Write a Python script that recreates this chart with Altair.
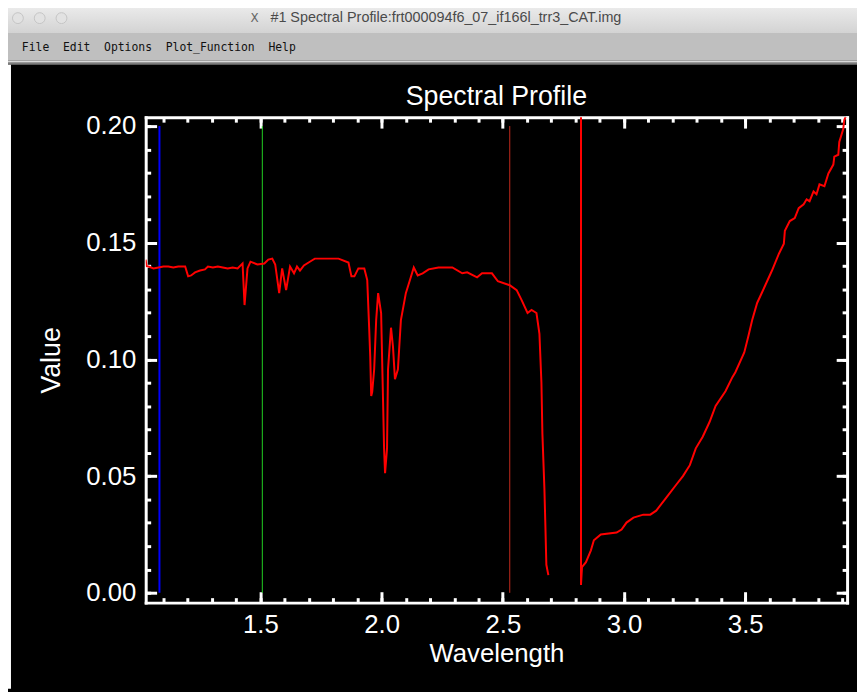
import altair as alt
import pandas as pd

# ---------------- data ----------------
# first part of the spectrum (before the gap)
WL_SHORT = [1.0265, 1.0310, 1.0388, 1.0592, 1.0796, 1.1000, 1.1204, 1.1408, 1.1612, 1.1898,
            1.2020, 1.2143, 1.2306, 1.2510, 1.2714, 1.2837, 1.3041, 1.3245, 1.3449, 1.3653,
            1.3857, 1.4061, 1.4265, 1.4347, 1.4469, 1.4592, 1.4878, 1.5163, 1.5327, 1.5490,
            1.5612, 1.5776, 1.5898, 1.6061, 1.6224, 1.6388, 1.6510, 1.6633, 1.6796, 1.7122,
            1.7245, 1.7735, 1.8224, 1.8633, 1.8755, 1.8878, 1.9041, 1.9286, 1.9408, 1.9490,
            1.9531, 1.9571, 1.9612, 1.9694, 1.9776, 1.9857, 1.9980, 2.0061, 2.0102, 2.0143,
            2.0224, 2.0265, 2.0388, 2.0469, 2.0551, 2.0673, 2.0796, 2.1000, 2.1204, 2.1327,
            2.1490, 2.1694, 2.1939, 2.2347, 2.2918, 2.3327, 2.3531, 2.3939, 2.4143, 2.4551,
            2.4796, 2.5286, 2.5571, 2.5776, 2.6020, 2.6184, 2.6388, 2.6510, 2.6592, 2.6633,
            2.6714, 2.6755, 2.6796, 2.6878]
VAL_SHORT = [0.1428, 0.1400, 0.1398, 0.1390, 0.1394, 0.1398, 0.1398, 0.1394, 0.1398, 0.1398,
             0.1356, 0.1360, 0.1373, 0.1381, 0.1386, 0.1398, 0.1394, 0.1398, 0.1394, 0.1390,
             0.1394, 0.1390, 0.1411, 0.1233, 0.1390, 0.1419, 0.1407, 0.1411, 0.1428, 0.1432,
             0.1407, 0.1284, 0.1390, 0.1297, 0.1398, 0.1369, 0.1398, 0.1381, 0.1403, 0.1424,
             0.1432, 0.1432, 0.1432, 0.1415, 0.1356, 0.1356, 0.1390, 0.1390, 0.1340, 0.1127,
             0.1013, 0.0843, 0.0860, 0.0958, 0.1169, 0.1284, 0.1199, 0.0818, 0.0619, 0.0513,
             0.0619, 0.0958, 0.1136, 0.1055, 0.0915, 0.0958, 0.1169, 0.1284, 0.1352, 0.1394,
             0.1360, 0.1369, 0.1386, 0.1394, 0.1394, 0.1369, 0.1373, 0.1352, 0.1369, 0.1369,
             0.1335, 0.1318, 0.1297, 0.1254, 0.1199, 0.1212, 0.1199, 0.1110, 0.0900, 0.0680,
             0.0450, 0.0290, 0.0120, 0.0076]

# second part of the spectrum (after the gap; first value is off scale)
WL_LONG = [2.8224, 2.8224, 2.8265, 2.8429, 2.8633, 2.8755, 2.9041, 2.9694, 2.9898, 3.0102,
           3.0388, 3.0796, 3.1082, 3.1327, 3.1735, 3.2143, 3.2429, 3.2714, 3.2959, 3.3245,
           3.3531, 3.3776, 3.4184, 3.4469, 3.4592, 3.4959, 3.5122, 3.5286, 3.5490, 3.5694,
           3.6102, 3.6388, 3.6592, 3.6633, 3.6837, 3.7041, 3.7204, 3.7408, 3.7531, 3.7653,
           3.7816, 3.7939, 3.8061, 3.8265, 3.8429, 3.8633, 3.8673, 3.8837, 3.8878, 3.9041,
           3.9082, 3.9163]
VAL_LONG = [0.2500, 0.0034, 0.0110, 0.0131, 0.0182, 0.0225, 0.0250, 0.0258, 0.0271, 0.0301,
            0.0322, 0.0335, 0.0335, 0.0352, 0.0407, 0.0462, 0.0500, 0.0547, 0.0619, 0.0669,
            0.0733, 0.0801, 0.0864, 0.0924, 0.0945, 0.1030, 0.1097, 0.1169, 0.1242, 0.1288,
            0.1381, 0.1453, 0.1496, 0.1551, 0.1593, 0.1606, 0.1648, 0.1665, 0.1686, 0.1678,
            0.1720, 0.1708, 0.1750, 0.1742, 0.1797, 0.1835, 0.1869, 0.1877, 0.1932, 0.1987,
            0.2025, 0.2047]

# band marker lines (blue / green / red bands)
MARKER_WL = [1.0837, 1.5080, 2.5286]
MARKER_COLOR = ["#0000ff", "#22d022", "#c42a1c"]
MARKER_WIDTH = [2.0, 1.0, 1.0]
MARKER_LOW = [0.0, 0.0, 0.0]
MARKER_HIGH = [0.20, 0.20, 0.20]

X_DOMAIN = [1.027, 3.92]
Y_DOMAIN = [-0.0042, 0.2038]
X_MAJOR = [1.5, 2.0, 2.5, 3.0, 3.5]
X_MINOR = [1.1, 1.2, 1.3, 1.4, 1.5, 1.6, 1.7, 1.8, 1.9, 2.0, 2.1, 2.2, 2.3, 2.4, 2.5,
           2.6, 2.7, 2.8, 2.9, 3.0, 3.1, 3.2, 3.3, 3.4, 3.5, 3.6, 3.7, 3.8, 3.9]
Y_MAJOR = [0.0, 0.05, 0.10, 0.15, 0.20]
Y_MINOR = [0.0, 0.01, 0.02, 0.03, 0.04, 0.05, 0.06, 0.07, 0.08, 0.09, 0.10,
           0.11, 0.12, 0.13, 0.14, 0.15, 0.16, 0.17, 0.18, 0.19, 0.20]

PLOT_TITLE = "Spectral Profile"
X_TITLE = "Wavelength"
Y_TITLE = "Value"
WINDOW_TITLE = "#1 Spectral Profile:frt000094f6_07_if166l_trr3_CAT.img"
MENU_TEXT = "\u00a0\u00a0".join(["File", "Edit", "Options", "Plot_Function", "Help"])

# ---------------- tables ----------------
spec = pd.concat([
    pd.DataFrame({"wl": WL_SHORT, "val": VAL_SHORT, "seg": "a"}),
    pd.DataFrame({"wl": WL_LONG, "val": VAL_LONG, "seg": "b"}),
], ignore_index=True)
spec["i"] = range(len(spec))
markers = pd.DataFrame({"wl": MARKER_WL, "lo": MARKER_LOW, "hi": MARKER_HIGH,
                        "c": MARKER_COLOR, "w": MARKER_WIDTH})
one = pd.DataFrame({"k": [0]})

# ---------------- geometry / style ----------------
W, H = 708, 490
PAD_L, PAD_T = 139, 107
FONT = "Liberation Sans"
WHITE = "#ffffff"
XS = alt.Scale(domain=X_DOMAIN, nice=False, zero=False)
YS = alt.Scale(domain=Y_DOMAIN, nice=False, zero=False)


def px(x):  # page x -> plot x
    return x - (PAD_L + 8)


def py(y):  # page y -> plot y
    return y - (PAD_T + 8)


# main curve with bottom / left labelled axes
line = alt.Chart(spec).mark_line(color="#ff0000", strokeWidth=2, clip=True).encode(
    x=alt.X("wl:Q", scale=XS, axis=alt.Axis(
        orient="bottom", values=X_MAJOR, format=".1f", grid=False,
        domain=True, domainColor=WHITE, domainWidth=3, domainCap="square",
        ticks=False, tickSize=0,
        labelColor=WHITE, labelFont=FONT, labelFontSize=26, labelPadding=9,
        title=X_TITLE, titleColor=WHITE, titleFont=FONT, titleFontSize=26,
        titleFontWeight="normal", titlePadding=3)),
    y=alt.Y("val:Q", scale=YS, axis=alt.Axis(
        orient="left", values=Y_MAJOR, format=".2f", grid=False,
        domain=True, domainColor=WHITE, domainWidth=3, domainCap="square",
        ticks=False, tickSize=0,
        labelColor=WHITE, labelFont=FONT, labelFontSize=26, labelPadding=10,
        title=Y_TITLE, titleColor=WHITE, titleFont=FONT, titleFontSize=27,
        titleFontWeight="normal", titlePadding=20)),
    detail="seg:N",
    order=alt.Order("i:Q"),
)

# band markers with top / right frame
rules = alt.Chart(markers).mark_rule().encode(
    x=alt.X("wl:Q", scale=XS, axis=alt.Axis(
        orient="top", grid=False, domain=True, domainColor=WHITE, domainWidth=3,
        domainCap="square", ticks=False, labels=False, title="")),
    y=alt.Y("lo:Q", scale=YS, axis=alt.Axis(
        orient="right", grid=False, domain=True, domainColor=WHITE, domainWidth=3,
        domainCap="square", ticks=False, labels=False, title="")),
    y2="hi:Q",
    color=alt.Color("c:N", scale=None),
    strokeWidth=alt.StrokeWidth("w:Q", scale=None),
)


def tick_layer(x_orient, y_orient, xv, yv, size):
    ax = dict(grid=False, domain=False, labels=False, title="", ticks=True,
              tickSize=size, tickWidth=3, tickColor=WHITE)
    return alt.Chart(spec).mark_point(opacity=0).encode(
        x=alt.X("wl:Q", scale=XS, axis=alt.Axis(orient=x_orient, offset=-H, values=xv, **ax)),
        y=alt.Y("val:Q", scale=YS, axis=alt.Axis(orient=y_orient, offset=-W, values=yv, **ax)),
    )


ticks = [
    tick_layer("top", "right", X_MINOR, Y_MINOR, 5),
    tick_layer("bottom", "left", X_MINOR, Y_MINOR, 5),
    tick_layer("top", "right", X_MAJOR, Y_MAJOR, 11),
    tick_layer("bottom", "left", X_MAJOR, Y_MAJOR, 11),
]

# ---------------- window chrome ----------------
grad = alt.LinearGradient(gradient="linear", x1=0, x2=0, y1=0, y2=1,
                          stops=[alt.GradientStop(offset=0, color="#eeeeee"),
                                 alt.GradientStop(offset=1, color="#d3d3d3")])
title_bar = alt.Chart(one).mark_rect(fill=grad).encode(
    x=alt.value(px(0)), x2=alt.value(px(865)), y=alt.value(py(0)), y2=alt.value(py(30)))
menu_bar = alt.Chart(one).mark_rect(fill="#bfbfbf").encode(
    x=alt.value(px(0)), x2=alt.value(px(865)), y=alt.value(py(30)), y2=alt.value(py(58)))
sep_light = alt.Chart(one).mark_rect(fill="#d8d8d8").encode(
    x=alt.value(px(0)), x2=alt.value(px(865)), y=alt.value(py(58)), y2=alt.value(py(60)))
sep_dark = alt.Chart(one).mark_rect(fill="#7a7a7a").encode(
    x=alt.value(px(0)), x2=alt.value(px(865)), y=alt.value(py(60)), y2=alt.value(py(62)))
left_strip = alt.Chart(one).mark_rect(fill="#ffffff").encode(
    x=alt.value(px(8)), x2=alt.value(px(11)), y=alt.value(py(62)), y2=alt.value(py(692)))

lights = [
    alt.Chart(one).mark_point(shape="circle", filled=True, size=120, fill="#e2e2e2",
                              stroke="#c4c4c4", strokeWidth=1, opacity=1).encode(
        x=alt.value(px(cx)), y=alt.value(py(15)))
    for cx in (18, 40, 62)
]

win_title = alt.Chart(one).mark_text(font=FONT, fontSize=14.5, color="#4a4a4a",
                                     align="center", baseline="middle").encode(
    x=alt.value(px(450)), y=alt.value(py(15)), text=alt.value(WINDOW_TITLE))
x_icon = alt.Chart(one).mark_text(font="DejaVu Sans", fontSize=12, color="#666666",
                                  align="center", baseline="middle").encode(
    x=alt.value(px(257)), y=alt.value(py(15)), text=alt.value("X"))
menu = alt.Chart(one).mark_text(font="DejaVu Sans Mono", fontSize=11.5, color="#111111",
                                align="left", baseline="middle").encode(
    x=alt.value(px(22)), y=alt.value(py(45)), text=alt.value(MENU_TEXT))

plot_title = alt.Chart(one).mark_text(font=FONT, fontSize=27, color=WHITE,
                                      align="center", baseline="alphabetic").encode(
    x=alt.value(W / 2), y=alt.value(py(103)), text=alt.value(PLOT_TITLE))

chart = alt.layer(
    title_bar, menu_bar, sep_light, sep_dark, left_strip, *lights, win_title, x_icon, menu,
    plot_title, *ticks, rules, line,
).resolve_axis(x="independent", y="independent").properties(
    width=W, height=H,
    autosize=alt.AutoSizeParams(type="none"),
    padding={"left": PAD_L, "top": PAD_T, "right": 10, "bottom": 87},
).configure(background="#000000").configure_view(strokeWidth=0)

chart.save("out.html", embed_options={"renderer": "svg", "actions": False})
